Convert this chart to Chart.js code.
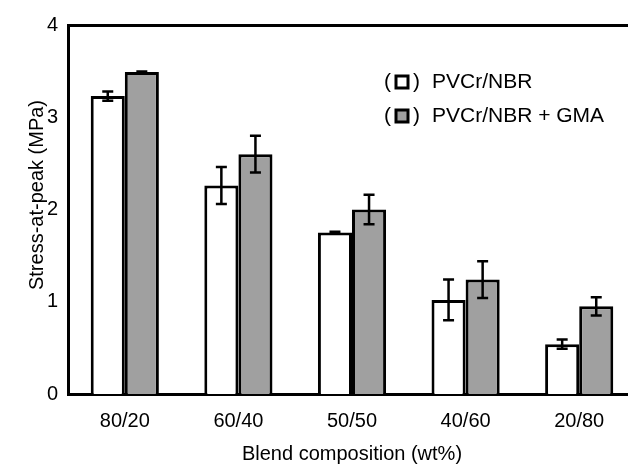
<!DOCTYPE html>
<html>
<head>
<meta charset="utf-8">
<script src="https://cdn.jsdelivr.net/npm/chart.js@4/dist/chart.umd.min.js"></script>
<style>
  html, body { margin: 0; padding: 0; background: #fff; overflow: hidden; }
  #wrap { width: 636px; height: 464px; }
</style>
</head>
<body>
<div id="wrap"><canvas id="stressChart" width="636" height="464"></canvas></div>
<script>
// blend compositions on the x axis
const blends = ['80/20', '60/40', '50/50', '40/60', '20/80'];

// stress-at-peak (MPa)
const pvcNbr = [3.23, 2.26, 1.75, 1.02, 0.54];
const pvcNbrErr = [0.05, 0.20, 0.01, 0.22, 0.05];
const pvcNbrGma = [3.49, 2.60, 2.00, 1.24, 0.95];
const pvcNbrGmaErr = [0.005, 0.20, 0.16, 0.20, 0.10];

const yTicks = [0, 1, 2, 3, 4];
const yTitle = 'Stress-at-peak (MPa)';

const FONT = '"Liberation Sans", Arial, Helvetica, sans-serif';

// draws the +/- error bars on top of each bar
const errorBars = {
    id: 'errorBars',
    afterDatasetsDraw(chart) {
        const ctx = chart.ctx;
        const yScale = chart.scales.y;
        chart.data.datasets.forEach((ds, i) => {
            const meta = chart.getDatasetMeta(i);
            meta.data.forEach((bar, j) => {
                const err = ds.errors[j];
                const top = yScale.getPixelForValue(ds.data[j] + err);
                const bottom = yScale.getPixelForValue(ds.data[j] - err);
                ctx.save();
                ctx.strokeStyle = '#000';
                ctx.lineWidth = 2.5;
                ctx.beginPath();
                ctx.moveTo(bar.x, top);
                ctx.lineTo(bar.x, bottom);
                ctx.moveTo(bar.x - 5.5, top);
                ctx.lineTo(bar.x + 5.5, top);
                ctx.moveTo(bar.x - 5.5, bottom);
                ctx.lineTo(bar.x + 5.5, bottom);
                ctx.stroke();
                ctx.restore();
            });
        });
    }
};

// legend in the style of the paper: "(box) label", plus the y title
const parenLegend = {
    id: 'parenLegend',
    afterDraw(chart) {
        const ctx = chart.ctx;
        const rows = [82, 116];
        chart.data.datasets.forEach((ds, i) => {
            const y = rows[i];
            ctx.save();
            ctx.font = '21px ' + FONT;
            ctx.fillStyle = '#000';
            ctx.textBaseline = 'middle';
            ctx.textAlign = 'left';
            ctx.fillText('(', 384, y);
            ctx.fillText(')', 413, y);
            ctx.fillText(ds.label, 432, y);
            ctx.fillStyle = ds.backgroundColor;
            ctx.fillRect(396, y - 6, 12, 12);
            ctx.strokeStyle = '#000';
            ctx.lineWidth = 3;
            ctx.strokeRect(396, y - 6, 12, 12);
            ctx.restore();
        });

        // y axis title sits a little above the middle of the axis
        ctx.save();
        ctx.translate(37, 195);
        ctx.rotate(-Math.PI / 2);
        ctx.font = '20px ' + FONT;
        ctx.fillStyle = '#000';
        ctx.textAlign = 'center';
        ctx.textBaseline = 'middle';
        ctx.fillText(yTitle, 0, 0);
        ctx.restore();
    }
};

const ctx = document.getElementById('stressChart');
new Chart(ctx, {
    type: 'bar',
    data: {
        labels: blends,
        datasets: [
            {
                label: 'PVCr/NBR',
                data: pvcNbr,
                errors: pvcNbrErr,
                backgroundColor: '#ffffff',
                borderColor: '#000000',
                borderWidth: 3
            },
            {
                label: 'PVCr/NBR + GMA',
                data: pvcNbrGma,
                errors: pvcNbrGmaErr,
                backgroundColor: '#a0a0a0',
                borderColor: '#000000',
                borderWidth: 3
            }
        ]
    },
    options: {
        responsive: false,
        animation: false,
        devicePixelRatio: 1,
        layout: { padding: { top: 25, right: 0, left: 0, bottom: 0 } },
        datasets: {
            bar: { categoryPercentage: 0.6, barPercentage: 1.0 }
        },
        plugins: {
            legend: { display: false },
            tooltip: { enabled: false }
        },
        scales: {
            x: {
                z: 1,
                grid: { display: false, drawTicks: false },
                border: { display: true, color: '#000', width: 3 },
                ticks: {
                    color: '#000',
                    padding: 15,
                    font: { family: FONT, size: 20 }
                },
                title: {
                    display: true,
                    text: 'Blend composition (wt%)',
                    color: '#000',
                    padding: 0,
                    font: { family: FONT, size: 20, lineHeight: 1 }
                },
                afterFit: (s) => { s.height = 70; }
            },
            x2: {
                position: 'top',
                grid: { display: false, drawTicks: false },
                border: { display: true, color: '#000', width: 3 },
                ticks: { display: false },
                afterFit: (s) => { s.height = 0; }
            },
            y: {
                min: 0,
                max: 4,
                grid: { display: false, drawTicks: false },
                border: { display: true, color: '#000', width: 3 },
                afterBuildTicks: (s) => { s.ticks = yTicks.map(v => ({ value: v })); },
                ticks: {
                    color: '#000',
                    padding: 10,
                    font: { family: FONT, size: 20 }
                },
                afterFit: (s) => { s.width = 68; }
            }
        }
    },
    plugins: [errorBars, parenLegend]
});
</script>
</body>
</html>
